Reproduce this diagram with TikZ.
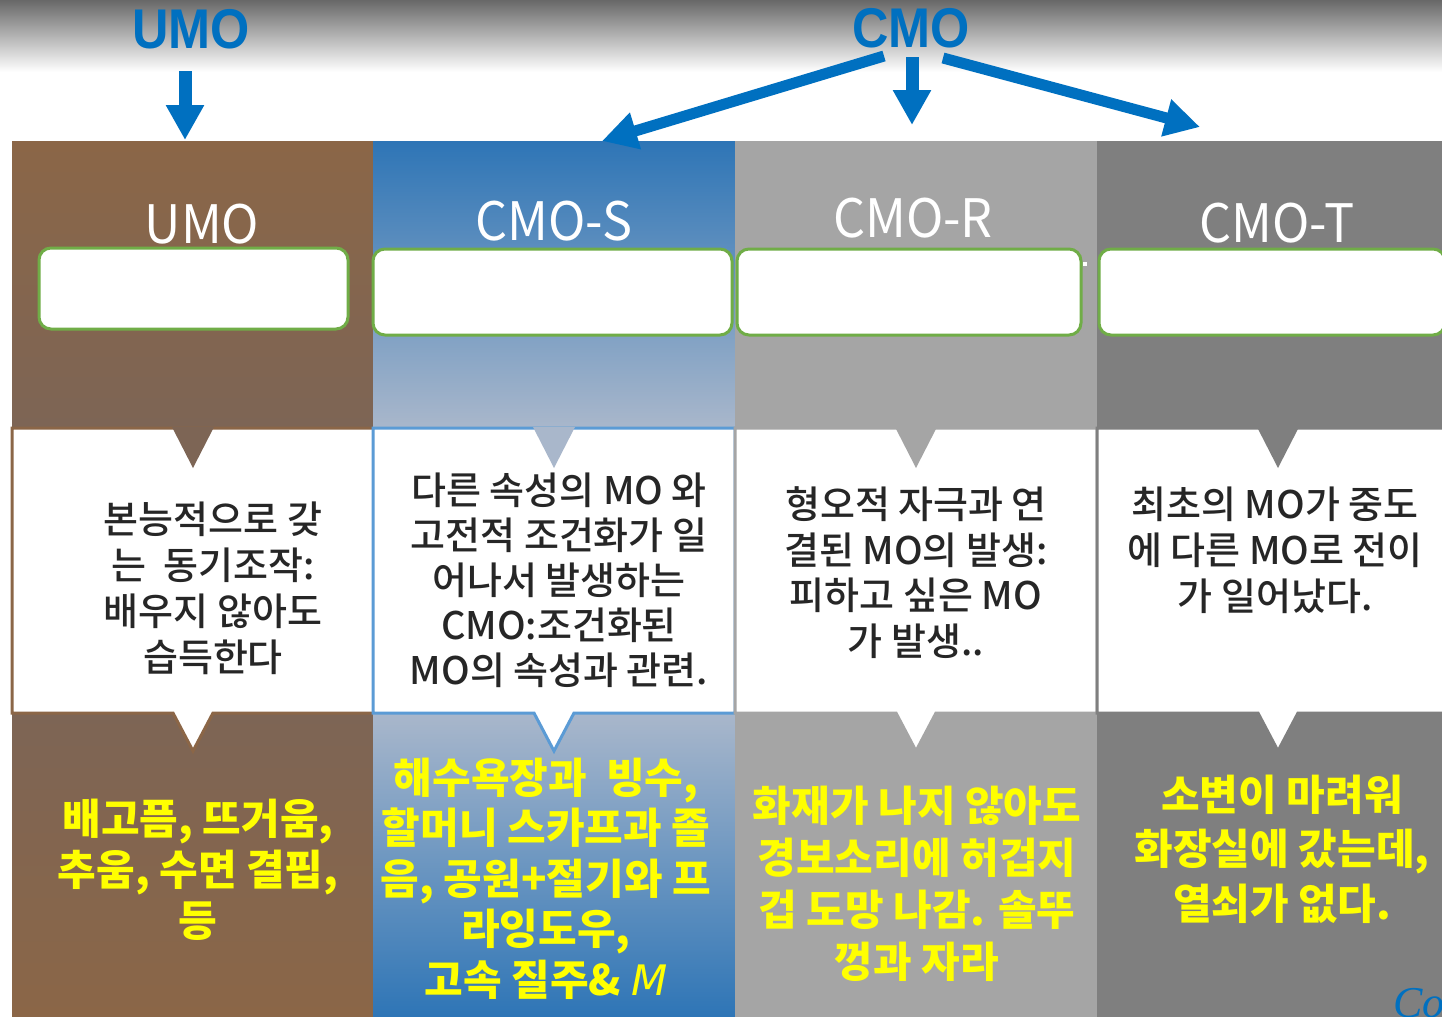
\documentclass[tikz,border=0pt]{standalone}
\usepackage{fontspec}
\usetikzlibrary{arrows.meta}

\newfontfamily\krfont{Noto Sans CJK KR Medium}
\newfontfamily\krhead{Noto Sans CJK KR}[FakeStretch=0.95]
\newfontfamily\krbold{Noto Sans CJK KR Black}
\newfontfamily\lblfont{Liberation Sans}[FakeStretch=0.9]
\newfontfamily\mfont{DejaVu Sans}
\newfontfamily\cofont{Liberation Serif}

\definecolor{arrowblue}{HTML}{0070C0}
\definecolor{brownA}{HTML}{8B6647}
\definecolor{brownB}{HTML}{7D6555}
\definecolor{blueA}{HTML}{2E75B6}
\definecolor{blueB}{HTML}{A9B7CB}
\definecolor{blueEdge}{HTML}{5B9BD5}
\definecolor{grayR}{HTML}{A5A5A5}
\definecolor{grayT}{HTML}{7F7F7F}
\definecolor{boxgreen}{HTML}{70AD47}
\definecolor{bodytext}{HTML}{262626}
\definecolor{hiyellow}{HTML}{FFFF00}
\definecolor{topgray}{RGB}{104,104,104}
\definecolor{midgray}{RGB}{205,205,205}

\tikzset{
  bodytxt/.style={font=\krfont\fontsize{19pt}{22pt}\selectfont, text=bodytext, inner sep=0pt},
  yeltxt/.style={font=\krbold\fontsize{21pt}{24pt}\selectfont, text=hiyellow, inner sep=0pt},
  headtxt/.style={font=\krhead\fontsize{26.5pt}{30pt}\selectfont, text=white, inner sep=0pt},
  toplbl/.style={font=\lblfont\bfseries\fontsize{28pt}{30pt}\selectfont, text=arrowblue, inner sep=0pt},
  greenbox/.style={draw=boxgreen, line width=1.5pt, fill=white, rounded corners=6pt, inner sep=0pt},
  blockarrow/.style={draw=arrowblue, line width=6.5pt, -{Triangle[length=17.5pt, width=18pt]}},
  slantarrow/.style={draw=arrowblue, line width=5.5pt, -{Triangle[length=17.5pt, width=18pt]}},
}

% one column: upper panel, lower panel, white callout with pointer, notch
% #1 left x, #2 outer colour, #3 inner colour, #4 callout edge colour
\newcommand\colpanel[4]{%
  \pgfmathsetmacro\xa{#1}%
  \pgfmathsetmacro\xb{#1+362}%
  \pgfmathsetmacro\xc{#1+181}%
  \shade[top color=#2, bottom color=#3] (\xa,141) rectangle (\xb,428);
  \shade[top color=#3, bottom color=#2] (\xa,713) rectangle (\xb,1017);
  \draw[line width=1.5pt, draw=#4, fill=white, line join=miter]
    (\xa,428) -- (\xb,428) -- (\xb,713) -- (\xc+20,713) -- (\xc,751)
    -- (\xc-20,713) -- (\xa,713) -- cycle;
  \fill[#3] (\xc-21,427) -- (\xc+21,427) -- (\xc,468) -- cycle;
}

% stacked centred lines: #1 name, #2 x, #3 first baseline, #4 step, #5 style, #6 lines
\newcommand\linestack[6]{%
  \foreach \ln [count=\i] in {#6}
    \node[#5, anchor=base] (#1-\i) at (#2, {#3+#4*(\i-1)}) {\ln};
}

\begin{document}
\begin{tikzpicture}[x=0.5pt, y=-0.5pt]
  \useasboundingbox (0,0) rectangle (1442,1017);
  \clip (0,0) rectangle (1442,1017);
  \fill[white] (0,0) rectangle (1442,1017);

  % grey haze along the top edge
  \shade[top color=topgray, middle color=midgray, bottom color=white] (0,0) rectangle (1442,72);

  % the four columns
  \colpanel{12}{brownA}{brownB}{brownA}
  \colpanel{373}{blueA}{blueB}{blueEdge}
  \colpanel{735}{grayR}{grayR}{grayR}
  \colpanel{1097}{grayT}{grayT}{grayT}

  % empty title boxes
  \node[greenbox, minimum width=154.5pt, minimum height=40.5pt] (boxU) at (193.5,288.5) {};
  \node[greenbox, minimum width=179.5pt, minimum height=43pt] (boxS) at (552.5,292) {};
  \node[greenbox, minimum width=172pt, minimum height=43pt] (boxR) at (909,292) {};
  \node[greenbox, minimum width=173pt, minimum height=43pt] (boxT) at (1272,292) {};
  \fill[white] (1083,262) rectangle (1087,266);

  % column headings
  \node[headtxt, anchor=base] (hU) at (202,243) {UMO};
  \node[headtxt, anchor=base] (hS) at (554,240) {CMO-S};
  \node[headtxt, anchor=base] (hR) at (913,237) {CMO-R};
  \node[headtxt, anchor=base] (hT) at (1277,242) {CMO-T};

  % descriptions
  \linestack{dU}{213}{533.5}{46}{bodytxt}{{본능적으로 갖},{는\ \ 동기조작:},{배우지 않아도},{습득한다}}
  \linestack{dS}{559}{504.5}{45}{bodytxt}{{다른 속성의 MO 와},{고전적 조건화가 일},{어나서 발생하는},{CMO:조건화된},{MO의 속성과 관련.}}
  \linestack{dR}{916}{518.5}{45.5}{bodytxt}{{형오적 자극과 연},{결된 MO의 발생:},{피하고 싶은 MO},{가 발생..}}
  \linestack{dT}{1275}{518}{46}{bodytxt}{{최초의 MO가 중도},{에 다른 MO로 전이},{가 일어났다.}}

  % examples
  \linestack{eU}{198}{834}{51}{yeltxt}{{배고픔, 뜨거움,},{추움, 수면 결핍,},{등}}
  \linestack{eS}{546}{793}{50.5}{yeltxt}{{해수욕장과\ \ 빙수,},{할머니 스카프과 졸},{음, 공원+절기와 프},{라잉도우,},{고속 질주\& {\mfont\itshape M}}}
  \linestack{eR}{917}{821}{52}{yeltxt}{{화재가 나지 않아도},{경보소리에 허겁지},{겁 도망 나감. 솔뚜},{껑과 자라}}
  \linestack{eT}{1282}{810}{54.5}{yeltxt}{{소변이 마려워},{화장실에 갔는데,},{열쇠가 없다.}}

  \node[anchor=base west, inner sep=0pt, text=arrowblue,
        font=\cofont\itshape\fontsize{22pt}{24pt}\selectfont] (cp) at (1393,1017) {Co};

  % top labels and their arrows
  \node[toplbl, anchor=base] (umo) at (191,48) {UMO};
  \node[toplbl, anchor=base] (cmo) at (911,47) {CMO};

  \coordinate (umoTail) at (185,71);
  \coordinate (umoTip) at (185,140);
  \coordinate (cmoDownTail) at (912,57);
  \coordinate (cmoDownTip) at (912,125);
  \coordinate (cmoLeftTail) at (884,56);
  \coordinate (cmoLeftTip) at (602,141);
  \coordinate (cmoRightTail) at (943,58);
  \coordinate (cmoRightTip) at (1200,127);

  \draw[blockarrow] (umoTail) -- (umoTip);
  \draw[blockarrow] (cmoDownTail) -- (cmoDownTip);
  \draw[slantarrow] (cmoLeftTail) -- (cmoLeftTip);
  \draw[slantarrow] (cmoRightTail) -- (cmoRightTip);
\end{tikzpicture}
\end{document}
